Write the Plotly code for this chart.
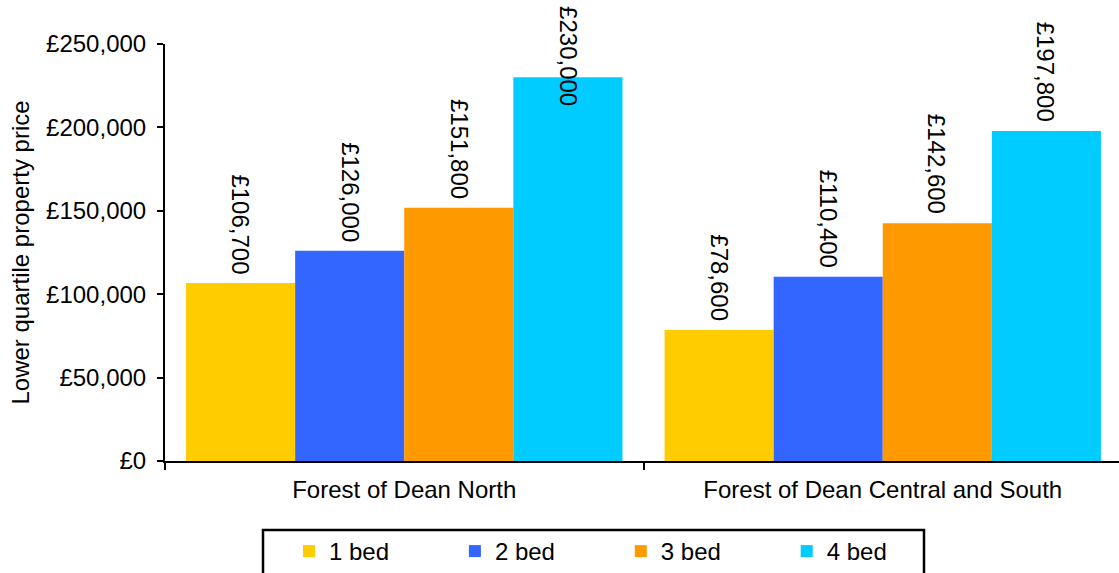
import plotly.graph_objects as go

# Lower quartile property prices by area and bedroom count
areas = ["Forest of Dean North", "Forest of Dean Central and South"]
bed_sizes = ["1 bed", "2 bed", "3 bed", "4 bed"]
prices = {
    "1 bed": [106700, 78600],
    "2 bed": [126000, 110400],
    "3 bed": [151800, 142600],
    "4 bed": [230000, 197800],
}
colors = ["#FFCC00", "#3366FF", "#FF9900", "#00CCFF"]
y_ticks = [0, 50000, 100000, 150000, 200000, 250000]
y_tick_labels = ["£{:,}".format(t) for t in y_ticks]

FONT = "Liberation Sans, Arial, sans-serif"
FS = 24
W, H = 1119, 573
M_L, M_T, M_B = 165, 44, 112
plot_h = H - M_T - M_B
y_max = 250000
bargap = 0.088

fig = go.Figure()
for name, col in zip(bed_sizes, colors):
    fig.add_trace(go.Bar(
        x=areas, y=prices[name], name=name,
        marker=dict(color=col, line=dict(width=0)),
    ))

# Value labels, rotated and centred over each bar
n = len(bed_sizes)
bar_w = (1 - bargap) / n
label_len = 104
gap = 9
annotations = []
for i, name in enumerate(bed_sizes):
    offset = -(1 - bargap) / 2 + bar_w * (i + 0.5)
    for j, v in enumerate(prices[name]):
        text = "£{:,}".format(v)
        top_px = M_T + (1 - v / y_max) * plot_h - gap - label_len
        if top_px < 6:
            annotations.append(dict(
                x=j + offset, xref="x", y=(M_T + plot_h - 4) / plot_h, yref="paper",
                yanchor="top", xanchor="center", text=text, textangle=90,
                showarrow=False, font=dict(family=FONT, size=FS, color="black"),
            ))
        else:
            annotations.append(dict(
                x=j + offset, xref="x", y=v, yref="y",
                yanchor="bottom", xanchor="center", yshift=gap - 2, text=text, textangle=90,
                showarrow=False, font=dict(family=FONT, size=FS, color="black"),
            ))

plot_w = W - M_L
leg_left, leg_right, leg_top = 263, 924, 530
shapes = [dict(
    type="rect", xref="paper", yref="paper",
    x0=(leg_left - M_L) / plot_w, x1=(leg_right - M_L) / plot_w,
    y0=(M_T + plot_h - leg_top) / plot_h, y1=(M_T + plot_h - (H + 10)) / plot_h,
    line=dict(color="black", width=2.5), fillcolor="rgba(0,0,0,0)",
)]

fig.update_layout(
    width=W, height=H,
    margin=dict(l=M_L, r=0, t=M_T, b=M_B, autoexpand=False),
    paper_bgcolor="white", plot_bgcolor="white",
    barmode="group", bargap=bargap, bargroupgap=0,
    font=dict(family=FONT, size=FS, color="black"),
    showlegend=True,
    legend=dict(
        orientation="h", x=(289 - M_L) / plot_w, xanchor="left",
        y=(M_T + plot_h - 529) / plot_h, yanchor="top",
        entrywidth=120.9, entrywidthmode="pixels",
        font=dict(family=FONT, size=FS), bgcolor="rgba(0,0,0,0)",
        borderwidth=0, traceorder="normal",
    ),
    xaxis=dict(
        range=[-0.5, 1.5 - 3 / 478], showline=True, linecolor="black", linewidth=2,
        ticks="outside", tickson="boundaries", ticklen=7, tickwidth=2, tickcolor="black",
        showgrid=False, tickfont=dict(size=FS), automargin=False, ticklabelstandoff=6,
    ),
    yaxis=dict(
        range=[0, y_max], tickvals=y_ticks, ticktext=y_tick_labels,
        showline=True, linecolor="black", linewidth=2,
        ticks="outside", ticklen=6, tickwidth=2, tickcolor="black",
        showgrid=False, zeroline=False, tickfont=dict(size=FS), automargin=False,
        ticklabelstandoff=6,
        title=dict(text="Lower quartile property price", font=dict(size=FS), standoff=10),
    ),
    annotations=annotations,
    shapes=shapes,
)

fig.write_html("out.html")
